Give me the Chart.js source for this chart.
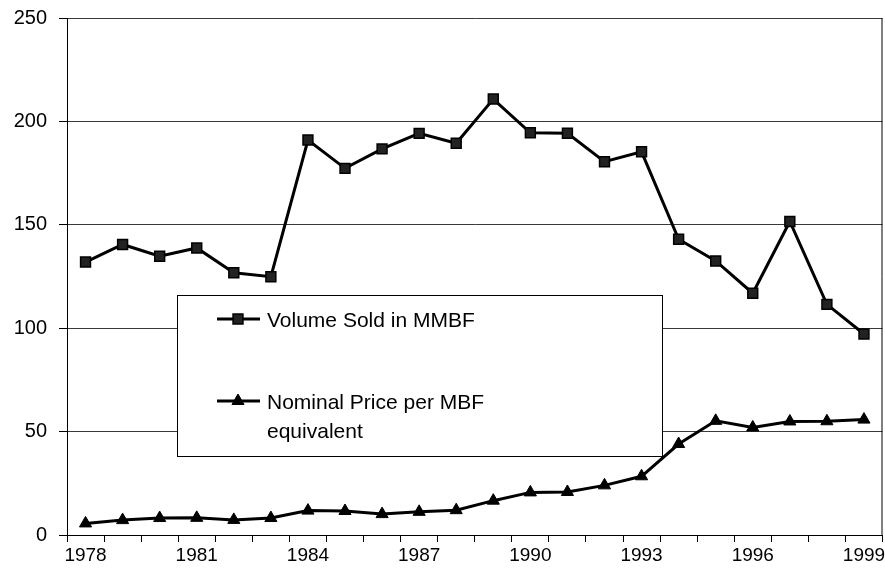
<!DOCTYPE html>
<html>
<head>
<meta charset="utf-8">
<script src="https://cdn.jsdelivr.net/npm/chart.js@4/dist/chart.umd.min.js"></script>
<style>
  html, body { margin: 0; padding: 0; background: #fff; overflow: hidden; }
  #wrap { width: 885px; height: 569px; overflow: hidden; }
</style>
</head>
<body>
<div id="wrap"><canvas id="chart" width="891" height="569"></canvas></div>
<script>
// data
var years = ['1978','1979','1980','1981','1982','1983','1984','1985','1986','1987','1988',
             '1989','1990','1991','1992','1993','1994','1995','1996','1997','1998','1999'];
var volumeSold = [132, 140.5, 134.8, 138.8, 126.8, 124.9, 191, 177.3, 186.7, 194.2, 189.4,
                  210.8, 194.5, 194.3, 180.5, 185.3, 143, 132.5, 116.9, 151.6, 111.5, 97.2];
var nominalPrice = [5.6, 7.2, 8.2, 8.3, 7.3, 8.2, 11.8, 11.6, 10.1, 11.2, 12,
                    16.6, 20.6, 20.8, 24, 28.4, 44, 55.2, 52, 54.9, 55, 55.8];
var yTicks = [0, 50, 100, 150, 200, 250];

var FONT = 'Liberation Sans, Arial, sans-serif';

// boxed legend sitting inside the plot, plus the right frame
var boxLegend = {
  id: 'boxLegend',
  afterDatasetsDraw: function (chart) {
    var ctx = chart.ctx;
    var a = chart.chartArea;
    ctx.save();
    ctx.strokeStyle = '#000';
    ctx.lineWidth = 1;
    ctx.beginPath();
    ctx.moveTo(a.right - 0.5, a.top);
    ctx.lineTo(a.right - 0.5, a.bottom);
    ctx.stroke();

    // legend box
    var bx = 177.5, by = 295.5, bw = 485, bh = 161;
    ctx.fillStyle = '#fff';
    ctx.fillRect(bx, by, bw, bh);
    ctx.strokeStyle = '#000';
    ctx.strokeRect(bx, by, bw, bh);

    var items = [
      { ds: 0, y: 319, lines: ['Volume Sold in MMBF'] },
      { ds: 1, y: 401, lines: ['Nominal Price per MBF', 'equivalent'] }
    ];
    items.forEach(function (it) {
      var d = chart.data.datasets[it.ds];
      ctx.strokeStyle = '#000';
      ctx.lineWidth = 3;
      ctx.beginPath();
      ctx.moveTo(217, it.y);
      ctx.lineTo(260, it.y);
      ctx.stroke();
      ctx.fillStyle = d.pointBackgroundColor;
      ctx.lineWidth = d.pointBorderWidth;
      Chart.helpers.drawPoint(ctx, {
        pointStyle: d.pointStyle,
        radius: d.pointRadius,
        borderWidth: d.pointBorderWidth,
        rotation: 0
      }, 238, it.y);
      ctx.fillStyle = '#000';
      ctx.font = '21px ' + FONT;
      ctx.textBaseline = 'middle';
      ctx.textAlign = 'left';
      it.lines.forEach(function (t, i) {
        ctx.fillText(t, 267, it.y + 2 + i * 29);
      });
    });
    ctx.restore();
  }
};

new Chart(document.getElementById('chart'), {
  type: 'line',
  data: {
    labels: years,
    datasets: [{
      label: 'Volume Sold in MMBF',
      data: volumeSold,
      borderColor: '#000',
      borderWidth: 3,
      pointStyle: 'rect',
      pointRadius: 7,
      pointBackgroundColor: '#222',
      pointBorderColor: '#000',
      pointBorderWidth: 1.5,
      tension: 0
    }, {
      label: 'Nominal Price per MBF equivalent',
      data: nominalPrice,
      borderColor: '#000',
      borderWidth: 3,
      pointStyle: 'triangle',
      pointRadius: 7,
      pointBackgroundColor: '#000',
      pointBorderColor: '#000',
      pointBorderWidth: 1,
      tension: 0
    }]
  },
  options: {
    responsive: false,
    animation: false,
    layout: { padding: { top: 18, right: 0, left: 0, bottom: 0 } },
    plugins: {
      legend: { display: false },
      tooltip: { enabled: false }
    },
    scales: {
      x: {
        offset: true,
        grid: { offset: true, drawOnChartArea: false, drawTicks: true, tickLength: 7, color: '#000' },
        border: { color: '#000', width: 1 },
        ticks: {
          color: '#000',
          font: { family: FONT, size: 19 },
          padding: 2,
          maxRotation: 0,
          autoSkip: false,
          callback: function (v, i) { return i % 3 === 0 ? years[i] : ''; }
        },
        afterFit: function (s) { s.height = 34; }
      },
      y: {
        min: 0,
        max: 250,
        afterBuildTicks: function (s) { s.ticks = yTicks.map(function (v) { return { value: v }; }); },
        grid: { color: '#3a3a3a', tickLength: 8, tickColor: '#000' },
        border: { color: '#000', width: 1 },
        ticks: {
          color: '#000',
          font: { family: FONT, size: 20 },
          padding: 12
        },
        afterFit: function (s) { s.width = 67; s.paddingTop = 0; s.paddingBottom = 0; }
      }
    }
  },
  plugins: [boxLegend]
});
</script>
</body>
</html>
